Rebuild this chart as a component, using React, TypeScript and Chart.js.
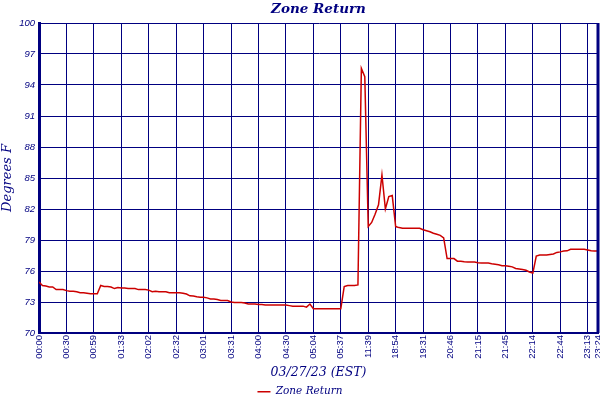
import React, { useRef, useEffect } from "react";
import { Chart, registerables } from "chart.js";

Chart.register(...registerables);

// labels shown under the grid, one every 8 samples (last one at the final sample)
const xTickLabels = [
    "00:00", "00:30", "00:59", "01:33", "02:02", "02:32", "03:01", "03:31", "04:00", "04:30", "05:04",
    "05:37", "11:39", "18:54", "19:31", "20:46", "21:15", "21:45", "22:14", "22:44", "23:13", "23:24",
];
const samplesPerLabel = 8;

const yTickLabels = ["70", "73", "76", "79", "82", "85", "88", "91", "94", "97", "100"];

// Zone Return temperature, deg F
const earlyHours = [
    74.94, 74.6, 74.55, 74.45, 74.45, 74.2, 74.2, 74.2,
    74.1, 74.05, 74.05, 74.0, 73.9, 73.9, 73.85, 73.8,
    73.8, 73.8, 74.6, 74.5, 74.5, 74.45, 74.3, 74.4,
    74.35, 74.35, 74.3, 74.3, 74.3, 74.2, 74.2, 74.2,
    74.15, 74.0, 74.05, 74.0, 74.0, 74.0, 73.9, 73.9,
    73.9, 73.9, 73.85, 73.77, 73.6, 73.58, 73.5, 73.45,
    73.45, 73.4, 73.3, 73.3, 73.25, 73.15, 73.15, 73.15,
    73.0, 72.95, 72.95, 72.95, 72.9, 72.8, 72.8, 72.8,
    72.75, 72.75, 72.7, 72.7, 72.7, 72.7, 72.7, 72.7,
    72.7, 72.65, 72.6, 72.6, 72.6, 72.6, 72.5, 72.8,
    72.35, 72.35, 72.35, 72.35, 72.35, 72.35, 72.35, 72.35,
    72.35,
];
const middaySpike = [
    74.5, 74.6, 74.6, 74.6, 74.65, 95.6, 94.8,
    80.3, 80.7, 81.5, 82.4, 85.3, 82.0, 83.2, 83.3,
];
const evening = [
    80.3, 80.2, 80.13, 80.13, 80.13, 80.13, 80.13, 80.13,
    80.0, 79.9, 79.8, 79.65, 79.55, 79.45, 79.2, 77.2,
    77.2, 77.2, 76.95, 76.94, 76.9, 76.87, 76.87, 76.87,
    76.8, 76.77, 76.77, 76.77, 76.7, 76.65, 76.6, 76.5,
    76.5, 76.45, 76.4, 76.25, 76.2, 76.15, 76.07, 75.9,
    75.8, 77.45, 77.55, 77.55, 77.55, 77.6, 77.65, 77.8,
    77.85, 77.93, 77.95, 78.1, 78.1, 78.1, 78.1, 78.1,
    78.03, 77.95, 77.93, 77.93,
];

const zoneReturn = [...earlyHours, ...middaySpike, ...evening];

const NAVY = "#000080";
const chartTitle = "Zone Return";

// right frame edge + title centred over the plot area
const frameAndTitle = {
    id: "frameAndTitle",
    afterDraw(chart: any) {
        const { ctx, chartArea } = chart;
        ctx.save();
        ctx.strokeStyle = NAVY;
        ctx.lineWidth = 3;
        ctx.beginPath();
        ctx.moveTo(chartArea.right, chartArea.top);
        ctx.lineTo(chartArea.right, chartArea.bottom);
        ctx.stroke();

        ctx.fillStyle = NAVY;
        ctx.font = "italic bold 13.5px 'DejaVu Serif'";
        ctx.textAlign = "center";
        ctx.textBaseline = "middle";
        ctx.fillText(chartTitle, (chartArea.left + chartArea.right) / 2, 9);
        ctx.restore();
    },
};

const App: React.FC = () => {
    const canvasRef = useRef<HTMLCanvasElement | null>(null);
    const chartRef = useRef<Chart | null>(null);

    useEffect(() => {
        if (!canvasRef.current) return;
        if (chartRef.current) chartRef.current.destroy();

        const last = zoneReturn.length - 1;
        const tickValues = xTickLabels.map((_, i) => (i === xTickLabels.length - 1 ? last : i * samplesPerLabel));

        chartRef.current = new Chart(canvasRef.current, {
            type: "line",
            data: {
                datasets: [{
                    label: "Zone Return",
                    data: zoneReturn.map((v, i) => ({ x: i, y: v })),
                    borderColor: "#cc0000",
                    backgroundColor: "#cc0000",
                    borderWidth: 1.5,
                    pointRadius: 0,
                    pointStyle: "line",
                    tension: 0,
                    fill: false,
                }],
            },
            options: {
                responsive: false,
                animation: false,
                devicePixelRatio: 1,
                layout: { padding: { left: 0, right: 0, top: 23, bottom: -7 } },
                plugins: {
                    title: { display: false },
                    legend: {
                        position: "bottom",
                        labels: {
                            usePointStyle: true,
                            pointStyleWidth: 13,
                            color: NAVY,
                            padding: 4,
                            font: { family: "DejaVu Serif", size: 10.5, style: "italic" },
                        },
                    },
                    tooltip: { enabled: false },
                },
                scales: {
                    x: {
                        type: "linear",
                        min: 0,
                        max: last,
                        afterBuildTicks: (scale: any) => {
                            scale.ticks = tickValues.map((value) => ({ value }));
                        },
                        afterFit: (scale: any) => {
                            scale.height = 49.5;
                            scale.paddingRight = 2;
                            scale.paddingLeft = 0;
                        },
                        ticks: {
                            autoSkip: false,
                            maxRotation: 90,
                            minRotation: 90,
                            padding: 2,
                            color: NAVY,
                            font: { family: "Liberation Sans", size: 9.5 },
                            callback: (value: any) => {
                                const idx = tickValues.indexOf(Number(value));
                                return idx >= 0 ? xTickLabels[idx] : null;
                            },
                        },
                        grid: { color: NAVY, lineWidth: 1, drawTicks: false },
                        border: { color: NAVY, width: 2 },
                        title: {
                            display: true,
                            text: "03/27/23 (EST)",
                            color: NAVY,
                            font: { family: "DejaVu Serif", size: 12.5, style: "italic" },
                            padding: { top: 2, bottom: 2 },
                        },
                    },
                    y: {
                        min: 70,
                        max: 100,
                        afterFit: (scale: any) => {
                            scale.width = 39;
                        },
                        ticks: {
                            stepSize: 3,
                            padding: 4,
                            color: NAVY,
                            font: { family: "Liberation Sans", size: 9.5, style: "italic" },
                            callback: (_value: any, index: number) => yTickLabels[index],
                        },
                        grid: { color: NAVY, lineWidth: 1, drawTicks: false },
                        border: { color: NAVY, width: 3 },
                        title: {
                            display: true,
                            text: "Degrees F",
                            color: NAVY,
                            font: { family: "DejaVu Serif", size: 13, style: "italic" },
                            padding: { top: 0, bottom: 0 },
                        },
                    },
                },
            },
            plugins: [frameAndTitle],
        });

        return () => {
            if (chartRef.current) {
                chartRef.current.destroy();
                chartRef.current = null;
            }
        };
    }, []);

    return (
        <div style={{ position: "absolute", left: 0, top: 0, width: 600, height: 400, background: "white" }}>
            <canvas ref={canvasRef} width={600} height={400}></canvas>
        </div>
    );
};

export default App;
